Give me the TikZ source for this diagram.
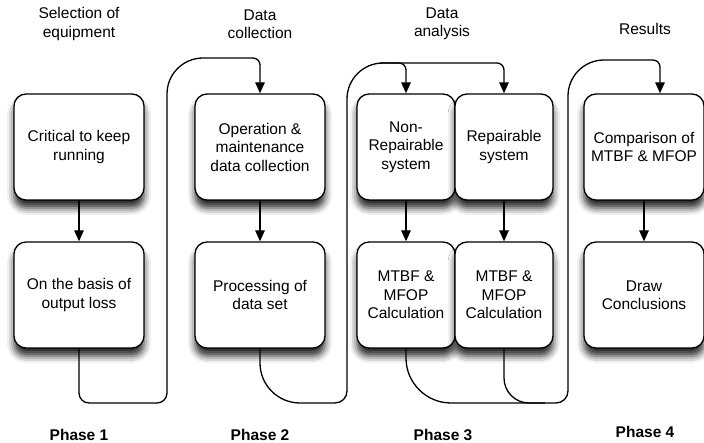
\documentclass[tikz,border=0pt]{standalone}
\usepackage{fontspec}
\setmainfont{Liberation Sans}
\usetikzlibrary{arrows.meta,shadows.blur}

\begin{document}
\begin{tikzpicture}[x=1pt, y=-1pt,
    box/.style={draw, line width=1.3pt, rounded corners=12pt, fill=white, minimum height=106pt, inner sep=2pt, align=center, font=\fontsize{15.5}{18.5}\selectfont, blur shadow={shadow xshift=0pt, shadow yshift=-8pt, shadow blur radius=7pt, shadow opacity=85}},
    widebox/.style={box, minimum width=130pt},
    halfbox/.style={box, minimum width=98pt},
    title/.style={align=center, font=\fontsize{15.5}{18.5}\selectfont},
    phase/.style={font=\fontsize{15.5}{18.5}\selectfont\bfseries},
    flow/.style={line width=1.3pt, -{Triangle[length=11pt, width=9.5pt]}},
    joinline/.style={line width=1.3pt}]
    \useasboundingbox (0,0) rectangle (704,443);

    % Titles
    \node[title] (t1) at (79,24) {Selection of\\equipment};
    \node[title] (t2) at (260,24) {Data\\collection};
    \node[title] (t3) at (442,24) {Data\\analysis};
    \node[title] (t4) at (645,29) {Results};

    % Phase 1
    \node[widebox] (crit) at (79,147) {Critical to keep\\running};
    \node[widebox] (basis) at (79,295) {On the basis of\\output loss};

    % Phase 2
    \node[widebox] (oper) at (260,147) {Operation \&\\maintenance\\data collection};
    \node[widebox] (proc) at (260,295) {Processing of\\data set};

    % Phase 3
    \node[halfbox] (nonrep) at (406,147) {Non-\\Repairable\\system};
    \node[halfbox] (rep) at (504,147) {Repairable\\system};
    \node[halfbox] (calcA) at (406,295) {MTBF \&\\MFOP\\Calculation};
    \node[halfbox] (calcB) at (504,295) {MTBF \&\\MFOP\\Calculation};

    % Phase 4
    \node[box, minimum width=120pt] (comp) at (644,147) {Comparison of\\MTBF \& MFOP};
    \node[box, minimum width=120pt] (concl) at (644,295) {Draw\\Conclusions};

    % Phase labels
    \node[phase] (p1) at (79,435) {Phase 1};
    \node[phase] (p2) at (260,435) {Phase 2};
    \node[phase] (p3) at (443,435) {Phase 3};
    \node[phase] (p4) at (645,432) {Phase 4};

    % Arrows inside the phases
    \draw[flow] (crit) -- (basis);
    \draw[flow] (oper) -- (proc);
    \draw[flow] (nonrep) -- (calcA);
    \draw[flow] (rep) -- (calcB);
    \draw[flow] (comp) -- (concl);

    % Arrows from one phase to the next
    \draw[flow] (basis.south) [rounded corners=10pt] -- (79,403) -- (167,403) [rounded corners=36pt] -- (167,58) [rounded corners=7pt] -- (260,58) -- (oper.north);
    \draw[flow] (proc.south) [rounded corners=40pt] -- (260,403) [rounded corners=12pt] -- (347,403) [rounded corners=36pt] -- (347,63) [rounded corners=7pt] -- (504,63) -- (rep.north);
    \draw[flow, rounded corners=7pt] (380,63) -| (nonrep.north);
    \draw[flow] (calcA.south) [rounded corners=45pt] -- (406,403) [rounded corners=12pt] -- (568,403) [rounded corners=36pt] -- (568,60) [rounded corners=7pt] -- (660,60) -- ([xshift=16pt]comp.north);
    \draw[joinline, rounded corners=25pt] (calcB.south) |- (545,403);
\end{tikzpicture}
\end{document}
